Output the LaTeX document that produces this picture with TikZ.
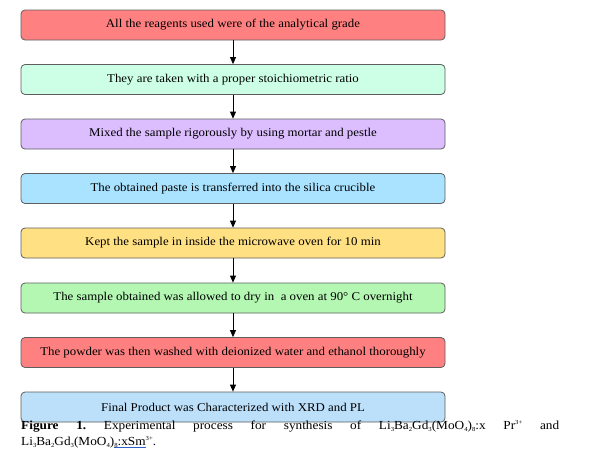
\documentclass[tikz,border=0pt]{standalone}
\usepackage{fontspec}
\setmainfont{Liberation Serif}[FakeStretch=1.08]
\usetikzlibrary{arrows.meta}
\definecolor{boxline}{HTML}{5E5E5E}
\definecolor{cA}{HTML}{FF8080}
\definecolor{cB}{HTML}{CCFFE5}
\definecolor{cC}{HTML}{DCBEFF}
\definecolor{cD}{HTML}{A9E3FF}
\definecolor{cE}{HTML}{FFE082}
\definecolor{cF}{HTML}{B3F7B3}
\definecolor{cG}{HTML}{FF8080}
\definecolor{cH}{HTML}{BCDFFA}
\definecolor{ulblue}{HTML}{2F5FC8}
\frenchspacing
\newcommand\blueul[1]{\begingroup\setbox0\hbox{#1}\rlap{\color{ulblue}\rule[-2.8pt]{\wd0}{1pt}}\box0\endgroup}
\newcommand\sbs[1]{\raisebox{-1.6pt}{\fontsize{6.2}{7}\selectfont #1}}
\newcommand\sps[1]{\raisebox{4.6pt}{\fontsize{6.2}{7}\selectfont #1}}
\begin{document}
\begin{tikzpicture}[x=1pt,y=1pt,
  stepbox/.style={draw=boxline, line width=0.8pt, rounded corners=4pt,
    minimum width=424pt, minimum height=30pt, inner sep=0pt,
    font=\fontsize{11.9}{13}\selectfont},
  flow/.style={-{Triangle[length=7pt,width=6pt]}, line width=0.8pt, black},
  captxt/.style={inner sep=0pt, font=\fontsize{12.3}{15}\selectfont}]
\useasboundingbox (0,0) rectangle (596,-464);
\fill[white] (0,0) rectangle (596,-464);
\node[stepbox, fill=cA] (b1) at (233,-25) {All the reagents used were of the analytical grade};
\node[stepbox, fill=cB] (b2) at (233,-79.5) {They are taken with a proper stoichiometric ratio};
\node[stepbox, fill=cC] (b3) at (233,-134) {Mixed the sample rigorously by using mortar and pestle};
\node[stepbox, fill=cD] (b4) at (233,-188.5) {The obtained paste is transferred into the silica crucible};
\node[stepbox, fill=cE] (b5) at (233,-243) {Kept the sample in inside the microwave oven for 10 min};
\node[stepbox, fill=cF] (b6) at (233,-298) {The sample obtained was allowed to dry in\ \ a oven at 90° C overnight};
\node[stepbox, fill=cG] (b7) at (233,-352.5) {The powder was then washed with deionized water and ethanol thoroughly};
\node[stepbox, fill=cH] (b8) at (233,-407) {Final Product was Characterized with XRD and PL};
\foreach \a/\b in {b1/b2,b2/b3,b3/b4,b4/b5,b5/b6,b6/b7,b7/b8}
  \draw[flow] (\a.south) -- (\b.north);
\node[captxt, anchor=base west] (cap1) at (21,-429.5)
  {\makebox[538pt][s]{\textbf{Figure 1.} Experimental process for synthesis of Li\sbs{3}Ba\sbs{2}Gd\sbs{3}(MoO\sbs{4})\sbs{8}:x Pr\sps{3+} and}};
\node[captxt, anchor=base west] (cap2) at (21,-445.5)
  {Li\sbs{3}Ba\sbs{2}Gd\sbs{3}(MoO\sbs{4})\blueul{\sbs{8}:xSm}\sps{3+}.};
\end{tikzpicture}
\end{document}
